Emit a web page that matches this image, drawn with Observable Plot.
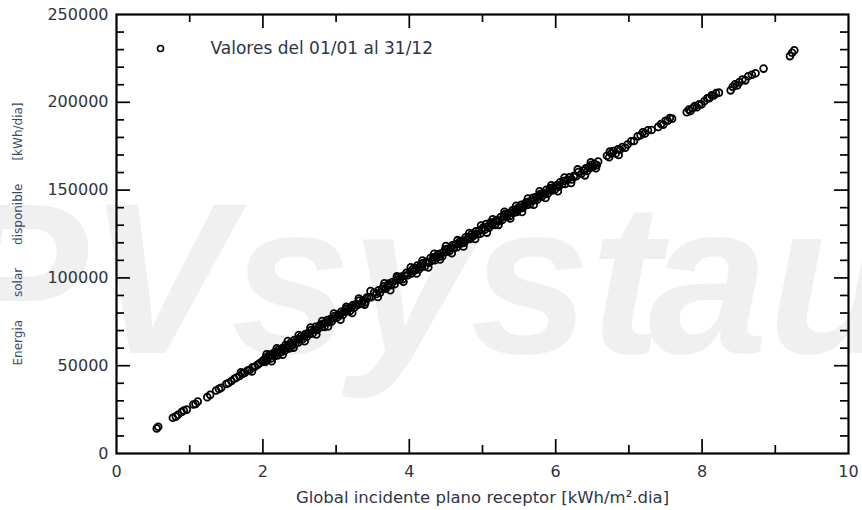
<!DOCTYPE html>
<html>
<head>
<meta charset="utf-8">
<script src="https://cdn.jsdelivr.net/npm/d3@7"></script>
<script src="https://cdn.jsdelivr.net/npm/@observablehq/plot@0.6"></script>
<style>
  html, body { margin: 0; padding: 0; background: #fff; overflow: hidden; }
  #chart { width: 862px; height: 510px; overflow: hidden; }
</style>
</head>
<body>
<div id="chart"></div>
<script>
// Global incidente plano receptor [kWh/m².dia]
const irradiacion = [
  0.55,0.57,0.77,0.81,0.84,0.89,0.92,0.96,1.05,1.08,1.11,1.24,1.28,1.36,1.40,1.43,1.50,1.53,1.57,1.61,1.64,1.68,1.72,1.75,1.79,1.82,1.86,1.89,1.93,1.96,1.99,
  2.01,2.03,2.04,2.06,2.08,2.09,2.11,2.13,2.15,2.16,2.18,2.20,2.21,2.23,2.25,2.26,2.28,2.30,2.31,2.33,2.35,2.36,2.38,2.40,2.41,2.43,2.45,2.47,2.48,2.50,2.52,2.54,2.56,2.58,2.60,2.62,2.64,2.66,2.68,2.70,2.72,2.74,2.76,2.78,2.80,2.82,2.84,2.86,2.88,2.90,2.92,2.94,2.96,2.98,
  3.01,3.03,3.05,3.07,3.09,3.11,3.13,3.15,3.17,3.19,3.21,3.23,3.25,3.27,3.30,3.32,3.35,3.37,3.40,3.42,3.45,3.48,3.52,3.55,3.58,3.60,3.63,3.65,3.68,3.70,3.72,3.75,3.77,3.80,3.82,3.84,3.87,3.89,3.91,3.94,3.96,3.98,
  4.01,4.03,4.05,4.07,4.09,4.11,4.13,4.15,4.17,4.19,4.21,4.23,4.25,4.27,4.29,4.31,4.33,4.35,4.37,4.39,4.41,4.43,4.45,4.47,4.49,4.51,4.53,4.55,4.57,4.59,4.61,4.63,4.65,4.67,4.69,4.71,4.73,4.75,4.77,4.79,4.81,4.83,4.85,4.87,4.89,4.91,4.93,4.95,4.97,4.99,
  5.01,5.03,5.05,5.07,5.09,5.11,5.13,5.15,5.17,5.19,5.21,5.23,5.25,5.27,5.29,5.31,5.33,5.35,5.37,5.39,5.41,5.43,5.45,5.47,5.49,5.51,5.53,5.55,5.57,5.59,5.61,5.63,5.65,5.67,5.69,5.71,5.73,5.75,5.77,5.79,5.81,5.83,5.85,5.87,5.89,5.91,5.93,5.95,5.97,5.99,
  6.02,6.04,6.06,6.09,6.11,6.13,6.16,6.19,6.22,6.25,6.28,6.31,6.35,6.38,6.41,6.43,6.45,6.47,6.49,6.51,6.53,6.56,6.58,6.70,6.73,6.76,6.79,6.82,6.85,6.88,6.91,6.95,6.98,
  7.03,7.07,7.12,7.16,7.19,7.22,7.26,7.31,7.40,7.44,7.47,7.50,7.53,7.56,7.59,7.79,7.82,7.84,7.87,7.90,7.93,7.96,7.99,
  8.03,8.07,8.10,8.13,8.16,8.19,8.23,8.39,8.42,8.45,8.48,8.51,8.55,8.59,8.63,8.68,8.73,8.84,9.20,9.23,9.26,
  2.05,2.12,2.19,2.27,2.34,2.42,2.49,2.57,2.65,2.73,2.81,2.89,2.97,3.06,3.14,3.22,3.31,3.39,3.47,3.57,3.66,3.74,3.83,3.92,4.02,4.10,4.18,4.26,4.34,4.42,
  4.50,4.58,4.66,4.74,4.82,4.90,4.98,5.06,5.14,5.22,5.30,5.38,5.46,5.54,5.62,5.70,5.78,5.86,5.94,6.03,6.12,6.21,6.30,6.40,6.48,6.55,6.74,6.86,1.70,1.85
];
// Energia solar disponible [kWh/dia]
const energia = [
  14300,15200,20400,21000,22100,23600,24500,25000,27900,28200,29600,32100,33400,35900,36800,37400,39600,40100,41300,42600,43300,44100,45500,45900,47300,47600,49100,49400,50600,51500,52400,
  53200,52200,54600,53300,55200,56400,54100,56000,57300,55600,57600,55900,59100,58100,57700,59900,59700,58700,61800,60200,61800,59800,63100,62400,61700,64600,63200,65000,63100,65200,66800,65100,66600,68000,66500,68600,68100,70300,68300,70400,72200,70300,71700,73100,72000,73800,72100,74600,76000,74800,76500,75200,76900,78300,
  77300,79100,78600,80700,78900,80800,82400,80900,82700,81200,83100,84500,83100,84900,84800,87100,85400,87200,86200,88800,88900,89000,91700,90900,92900,91600,93800,95200,93900,95400,96800,95800,97600,96400,98700,100100,99000,100700,99200,101300,102900,101500,
  103500,102500,105100,104100,105400,107000,104800,106700,106300,108400,106500,109100,109000,108600,111300,109900,111700,110100,112000,113500,112100,113900,112300,114700,116300,114900,116600,115400,117100,118600,117100,119000,117500,119400,120700,119600,121300,120100,123100,121900,123200,122200,124800,123700,124900,126500,124900,126800,125200,127500,
  128700,127500,130700,129300,128600,131500,130200,131600,130200,132900,132600,132300,134700,133000,134900,136400,134900,136600,135200,137100,138500,137100,138900,137500,140100,139500,141600,139900,141600,142800,141600,143300,141900,143900,145600,144200,146000,144600,146500,147800,146300,148300,147700,150100,148000,149800,151100,149800,151600,150300,
  152900,152000,154400,153500,155200,153500,155900,157300,156100,158100,157900,160300,159300,161100,162400,160900,163000,162600,164400,163300,164800,164200,166300,169600,168700,170800,172300,170800,173300,173100,174500,174100,176000,
  177800,178000,180600,181200,182900,182300,184100,184200,186000,187600,187300,189500,189500,191100,190700,194400,195900,195000,196600,197800,197200,198800,198800,
  200600,202300,202400,204000,203900,205200,205500,206800,208800,210300,209600,211500,213000,212500,214800,215700,216500,219200,226300,228200,229600,
  56500,52500,59900,56200,64000,60300,67500,63900,71700,67800,75400,72300,79700,76200,83600,80000,88200,84800,92500,89100,96900,93000,100900,97800,106100,102500,109900,106000,113700,110500,
  118100,114100,121500,117900,125600,122200,129800,125800,133400,130200,137700,133800,141100,137500,145200,141700,149300,145500,152700,149400,157200,154100,161800,158400,165800,162400,171900,170000,46200,46700
];

const xTickLabels = [0, 2, 4, 6, 8, 10];
const xMajorTicks = [2, 4, 6, 8];
const xMinorTicks = [1, 3, 5, 7, 9];
const yTickLabels = [0, 50000, 100000, 150000, 200000, 250000];
const yMajorTicks = [50000, 100000, 150000, 200000];
const yMinorTicks = [10000, 20000, 30000, 40000, 60000, 70000, 80000, 90000, 110000, 120000, 130000, 140000, 160000, 170000, 180000, 190000, 210000, 220000, 230000, 240000];

const legendText = "Valores del 01/01 al 31/12";
const xLabel = "Global incidente plano receptor [kWh/m².dia]";
const yLabel = "Energia      solar      disponible      [kWh/dia]";
const watermarkA = "PVsyst";
const watermarkB = "aur";

const n = Math.min(irradiacion.length, energia.length);
const data = irradiacion.slice(0, n).map((x, i) => ({x, y: energia[i]}));

const W = 862, H = 510, mL = 116, mR = 14, mT = 14, mB = 57;
const innerW = W - mL - mR, innerH = H - mT - mB;
const major = 14, minor = 8;
const tickStyle = {stroke: "#000", strokeWidth: 1.7};
const wmStyle = {frameAnchor: "top-left", textAnchor: "start", lineAnchor: "bottom",
  fontSize: 215, fontWeight: "bold", fontStyle: "italic", fontFamily: "'Liberation Sans', Arial, sans-serif",
  fill: "#f0f0f0", ariaLabel: "watermark"};

const plot = Plot.plot({
  width: W, height: H,
  marginLeft: mL, marginRight: mR, marginTop: mT, marginBottom: mB,
  style: {fontFamily: "'DejaVu Sans', sans-serif", fontSize: "16px", background: "white", color: "#2f3440"},
  x: {domain: [0, 10]},
  y: {domain: [0, 250000]},
  marks: [
    Plot.text([watermarkA], {...wmStyle, dx: -172, dy: 338}),
    Plot.text([watermarkB], {...wmStyle, dx: 532, dy: 338}),
    Plot.dot(data, {x: "x", y: "y", r: 3.4, stroke: "#000", strokeWidth: 1.8, fill: "none"}),
    // inward ticks: bottom, top
    Plot.tickX(xMajorTicks, {x: d => d, insetTop: innerH - major, ...tickStyle}),
    Plot.tickX(xMinorTicks, {x: d => d, insetTop: innerH - minor, ...tickStyle}),
    Plot.tickX(xMajorTicks, {x: d => d, insetBottom: innerH - major, ...tickStyle}),
    Plot.tickX(xMinorTicks, {x: d => d, insetBottom: innerH - minor, ...tickStyle}),
    // inward ticks: left, right
    Plot.tickY(yMajorTicks, {y: d => d, insetRight: innerW - major, ...tickStyle}),
    Plot.tickY(yMinorTicks, {y: d => d, insetRight: innerW - minor, ...tickStyle}),
    Plot.tickY(yMajorTicks, {y: d => d, insetLeft: innerW - major, ...tickStyle}),
    Plot.tickY(yMinorTicks, {y: d => d, insetLeft: innerW - minor, ...tickStyle}),
    Plot.frame({stroke: "#000", strokeWidth: 2.2}),
    Plot.axisX({ticks: xTickLabels, tickSize: 0, tickPadding: 12, label: null, fontSize: 16, color: "#2f3440"}),
    Plot.axisY({ticks: yTickLabels, tickSize: 0, tickPadding: 8, label: null, fontSize: 16, color: "#2f3440", tickFormat: d3.format("d")}),
    // legend
    Plot.dot([legendText], {frameAnchor: "top-left", dx: 44, dy: 34, r: 3, stroke: "#000", strokeWidth: 1.6, fill: "none"}),
    Plot.text([legendText], {frameAnchor: "top-left", dx: 94, dy: 34, textAnchor: "start", lineAnchor: "middle", fontSize: 17, fill: "#2f3547"}),
    // axis titles
    Plot.text([xLabel], {frameAnchor: "bottom", dy: 44, textAnchor: "middle", lineAnchor: "middle", fontSize: 16.5, fill: "#2f3547"}),
    Plot.text([yLabel], {frameAnchor: "left", dx: -98, rotate: -90, textAnchor: "middle", lineAnchor: "middle", fontSize: 12, fill: "#3a4866"})
  ]
});

d3.select(plot).selectAll('g[aria-label="watermark"]').style("letter-spacing", "-14px");
document.getElementById("chart").appendChild(plot);
</script>
</body>
</html>
